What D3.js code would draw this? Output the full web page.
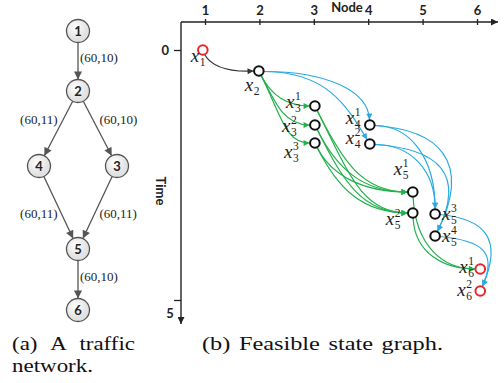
<!DOCTYPE html>
<html>
<head>
<meta charset="utf-8">
<script src="https://cdn.jsdelivr.net/npm/d3@7/dist/d3.min.js"></script>
<style>
  body { margin: 0; background: #fff; }
  svg { display: block; }
  .num { font-family: Lato, "Liberation Sans", sans-serif; font-weight: bold; font-size: 13px; fill: #222; }
  .elab { font-family: "Liberation Serif", serif; font-size: 13px; fill: #222; }
  .cap { font-family: "Liberation Serif", serif; font-size: 19.5px; fill: #111; }
  .xl { font-family: "Liberation Serif", serif; font-style: italic; font-size: 19px; fill: #222; }
  .xs { font-family: "Liberation Serif", serif; font-size: 11.5px; fill: #222; }
</style>
</head>
<body>
<svg id="chart" width="504" height="383"></svg>
<script>
// ---- (a) traffic network ----
var netNodes = [
  { id: "1", level: 0, col: 0 },
  { id: "2", level: 1, col: 0 },
  { id: "4", level: 2, col: -1 },
  { id: "3", level: 2, col: 1 },
  { id: "5", level: 3, col: 0 },
  { id: "6", level: 4, col: 0 }
];
var netLinks = [
  [ "1", "2", "(60,10)" ],
  [ "2", "4", "(60,11)" ],
  [ "2", "3", "(60,10)" ],
  [ "4", "5", "(60,11)" ],
  [ "3", "5", "(60,11)" ],
  [ "5", "6", "(60,10)" ]
];

// ---- (b) feasible state graph ----
var nodeTicks = [ 1, 2, 3, 4, 5, 6 ];
var timeTicks = [ 0, 5 ];
// node = position on Node axis, time = position on Time axis
var states = [
  { id: "x1",  node: 0.96, time: 0.00, sub: "1", sup: "",  end: true },
  { id: "x2",  node: 1.99, time: 0.42, sub: "2", sup: "" },
  { id: "x31", node: 3.02, time: 1.12, sub: "3", sup: "1" },
  { id: "x32", node: 3.02, time: 1.50, sub: "3", sup: "2" },
  { id: "x33", node: 3.02, time: 1.86, sub: "3", sup: "3" },
  { id: "x41", node: 4.03, time: 1.50, sub: "4", sup: "1" },
  { id: "x42", node: 4.03, time: 1.88, sub: "4", sup: "2" },
  { id: "x51", node: 4.82, time: 2.84, sub: "5", sup: "1" },
  { id: "x52", node: 4.82, time: 3.26, sub: "5", sup: "2" },
  { id: "x53", node: 5.23, time: 3.28, sub: "5", sup: "3" },
  { id: "x54", node: 5.23, time: 3.72, sub: "5", sup: "4" },
  { id: "x61", node: 6.06, time: 4.38, sub: "6", sup: "1", end: true },
  { id: "x62", node: 6.06, time: 4.82, sub: "6", sup: "2", end: true }
];
var grayEdges = [ [ "x1", "x2" ] ];
var greenEdges = [
  [ "x2", "x31" ], [ "x2", "x32" ], [ "x2", "x33" ],
  [ "x31", "x51" ], [ "x31", "x52" ], [ "x32", "x51" ], [ "x32", "x52" ],
  [ "x33", "x51" ], [ "x33", "x52" ],
  [ "x51", "x61" ], [ "x52", "x61" ]
];
var blueEdges = [
  [ "x2", "x41" ], [ "x2", "x42" ],
  [ "x41", "x53" ], [ "x41", "x54" ], [ "x42", "x53" ], [ "x42", "x54" ],
  [ "x53", "x62" ], [ "x54", "x62" ]
];

// label placement relative to the state circle (px)
var labelOffset = {
  x1: [ -12, 12 ], x2: [ -14, 20 ],
  x31: [ -29, 2 ], x32: [ -33, 7 ], x33: [ -31, 15 ],
  x41: [ -24, -1 ], x42: [ -24, 0 ],
  x51: [ -19, -17 ], x52: [ -27, 12 ],
  x53: [ 7, 6 ], x54: [ 7, 6 ],
  x61: [ -21, 4 ], x62: [ -23, 5 ]
};
// direction the arrow enters a blue target
var blueIn = { x41: [ 0.05, 1 ], x42: [ 0.6, 1 ], x53: [ 0, 1 ], x54: [ -0.5, 1 ], x62: [ -0.45, 1 ] };

var svg = d3.select( "#chart" );
var defs = svg.append( "defs" );

function marker( id , color , len , wid ) {
  defs.append( "marker" )
    .attr( "id" , id )
    .attr( "markerUnits" , "userSpaceOnUse" )
    .attr( "viewBox" , "0 0 10 10" )
    .attr( "refX" , 10 ).attr( "refY" , 5 )
    .attr( "markerWidth" , len ).attr( "markerHeight" , wid )
    .attr( "orient" , "auto" )
    .append( "path" ).attr( "d" , "M0,0L10,5L0,10z" ).attr( "fill" , color );
}
marker( "arrNet" , "#555" , 9 , 8 );
marker( "arrAxis" , "#222" , 8 , 7 );
marker( "arrGray" , "#333" , 7 , 6 );
marker( "arrGreen" , "#22b14c" , 7 , 6 );
marker( "arrBlue" , "#29abe2" , 7 , 6 );

var grad = defs.append( "radialGradient" ).attr( "id" , "nodeFill" ).attr( "cx" , "40%" ).attr( "cy" , "35%" );
grad.append( "stop" ).attr( "offset" , "0%" ).attr( "stop-color" , "#ffffff" );
grad.append( "stop" ).attr( "offset" , "100%" ).attr( "stop-color" , "#e2e2e2" );

// ---------- network (a) ----------
var colX = d3.scaleLinear().domain( [ -1 , 1 ] ).range( [ 39 , 117 ] );
var rowY = d3.scaleOrdinal().domain( [ 0 , 1 , 2 , 3 , 4 ] ).range( [ 31 , 91 , 166 , 249 , 310 ] );
var netR = 11.5;
var byId = {};
netNodes.forEach( function( n ) { n.x = colX( n.col ); n.y = rowY( n.level ); byId[ n.id ] = n; } );

var gNet = svg.append( "g" );
netLinks.forEach( function( l ) {
  var s = byId[ l[0] ], t = byId[ l[1] ];
  var dx = t.x - s.x, dy = t.y - s.y, d = Math.sqrt( dx * dx + dy * dy );
  var ux = dx / d, uy = dy / d;
  gNet.append( "line" )
    .attr( "x1" , s.x + ux * netR ).attr( "y1" , s.y + uy * netR )
    .attr( "x2" , t.x - ux * netR ).attr( "y2" , t.y - uy * netR )
    .attr( "stroke" , "#555" ).attr( "stroke-width" , 1.3 )
    .attr( "marker-end" , "url(#arrNet)" );
  var mx = ( s.x + t.x ) / 2, my = ( s.y + t.y ) / 2;
  var side = Math.min( s.col , t.col ) < 0 ? -1 : 1;
  var outward = Math.abs( t.col ) > Math.abs( s.col );
  var inward = Math.abs( t.col ) < Math.abs( s.col );
  gNet.append( "text" ).attr( "class" , "elab" )
    .attr( "x" , side < 0 ? mx - 1 : mx + 2 )
    .attr( "y" , outward ? my - 5 : ( inward ? my + 10 : my + 1 ) )
    .attr( "text-anchor" , side < 0 ? "end" : "start" )
    .text( l[2] );
} );
var nodeG = gNet.selectAll( "g.nn" ).data( netNodes ).join( "g" )
  .attr( "transform" , function( d ) { return "translate(" + d.x + "," + d.y + ")"; } );
nodeG.append( "circle" ).attr( "r" , netR ).attr( "fill" , "url(#nodeFill)" )
  .attr( "stroke" , "#555" ).attr( "stroke-width" , 1.3 );
nodeG.append( "text" ).attr( "class" , "num" ).attr( "text-anchor" , "middle" ).attr( "dy" , "0.36em" )
  .text( function( d ) { return d.id; } );

// ---------- state graph (b) ----------
var x = d3.scaleLinear().domain( [ 1 , 6 ] ).range( [ 205 , 477 ] );
var y = d3.scaleLinear().domain( [ 0 , 5 ] ).range( [ 50 , 300 ] );
var ox = 181, oy = 22;

var gAx = svg.append( "g" );
gAx.append( "line" ).attr( "x1" , ox ).attr( "y1" , oy ).attr( "x2" , 498 ).attr( "y2" , oy )
  .attr( "stroke" , "#222" ).attr( "stroke-width" , 1.4 ).attr( "marker-end" , "url(#arrAxis)" );
gAx.append( "line" ).attr( "x1" , ox ).attr( "y1" , oy ).attr( "x2" , ox ).attr( "y2" , 324 )
  .attr( "stroke" , "#222" ).attr( "stroke-width" , 1.4 ).attr( "marker-end" , "url(#arrAxis)" );

var xAxis = d3.axisTop( x ).tickValues( nodeTicks ).tickSize( 6 ).tickPadding( 4 ).tickFormat( d3.format( "d" ) );
var gx = gAx.append( "g" ).attr( "transform" , "translate(0," + ( oy + 3 ) + ")" ).call( xAxis );
gx.select( ".domain" ).remove();
gx.selectAll( "line" ).attr( "stroke" , "#222" ).attr( "stroke-width" , 1.3 );
gx.selectAll( "text" ).attr( "class" , "num" ).attr( "fill" , "#222" ).attr( "font-size" , null ).attr( "font-family" , null );

var yAxis = d3.axisLeft( y ).tickValues( timeTicks ).tickSize( 7 ).tickPadding( 5 ).tickFormat( d3.format( "d" ) );
var gy = gAx.append( "g" ).attr( "transform" , "translate(" + ox + ",0)" ).call( yAxis );
gy.select( ".domain" ).remove();
gy.selectAll( "line" ).attr( "stroke" , "#222" ).attr( "stroke-width" , 1.3 );
gy.selectAll( "text" ).attr( "class" , "num" ).attr( "fill" , "#222" ).attr( "font-size" , null ).attr( "font-family" , null );
gy.selectAll( ".tick" ).filter( function( d ) { return d === 5; } ).select( "text" )
  .attr( "x" , -11 ).attr( "text-anchor" , "middle" ).attr( "dy" , "1.35em" );

gAx.append( "text" ).attr( "class" , "num" ).attr( "x" , 347 ).attr( "y" , 12 )
  .attr( "text-anchor" , "middle" ).attr( "font-size" , 12.5 ).text( "Node" );
gAx.append( "text" ).attr( "class" , "num" ).attr( "transform" , "translate(156,191) rotate(90)" )
  .attr( "text-anchor" , "middle" ).attr( "font-size" , 12.5 ).text( "Time" );

var R = 4.8;
var st = {};
states.forEach( function( s ) { s.px = x( s.node ); s.py = y( s.time ); st[ s.id ] = s; } );

function unit( v ) { var l = Math.sqrt( v[0] * v[0] + v[1] * v[1] ); return [ v[0] / l , v[1] / l ]; }

function greenPath( a , b ) {
  var out = unit( a.id === "x51" || a.id === "x52" ? [ 0.05 , 1 ] : [ 0.5 , 1 ] );
  var p0 = [ a.px + out[0] * R , a.py + out[1] * R ];
  var p3 = [ b.px - R - 0.5 , b.py ];
  var dx = p3[0] - p0[0], dy = p3[1] - p0[1];
  var c1 = [ p0[0] + out[0] * dy * 0.7 , p0[1] + out[1] * dy * 0.7 ];
  var c2 = [ p3[0] - dx * 0.5 , p3[1] ];
  return "M" + p0 + "C" + c1 + " " + c2 + " " + p3;
}

function bluePath( a , b ) {
  var inn = unit( blueIn[ b.id ] );
  var p0 = [ a.px + R , a.py + 0.5 ];
  var p3 = [ b.px - inn[0] * ( R + 0.5 ) , b.py - inn[1] * ( R + 0.5 ) ];
  var dx = p3[0] - p0[0], dy = p3[1] - p0[1];
  var far = b.id === "x54" || b.id === "x62";
  var c1 = [ p0[0] + Math.max( dx , 40 ) * ( far ? 1.0 : 0.6 ) , p0[1] + ( far ? 4 : 0 ) ];
  var L = dy * ( far ? 0.75 : 0.6 );
  var c2 = [ p3[0] - inn[0] * L , p3[1] - inn[1] * L ];
  return "M" + p0 + "C" + c1 + " " + c2 + " " + p3;
}

function grayPath( a , b ) {
  var out = unit( [ 0.4 , 1 ] );
  var p0 = [ a.px + out[0] * R , a.py + out[1] * R ];
  var p3 = [ b.px - R - 0.5 , b.py ];
  var c1 = [ p0[0] + 8 , p0[1] + 14 ];
  var c2 = [ p3[0] - 22 , p3[1] + 1 ];
  return "M" + p0 + "C" + c1 + " " + c2 + " " + p3;
}

var gE = svg.append( "g" ).attr( "fill" , "none" ).attr( "stroke-width" , 1.2 );
gE.selectAll( "path.b" ).data( blueEdges ).join( "path" )
  .attr( "d" , function( e ) { return bluePath( st[ e[0] ] , st[ e[1] ] ); } )
  .attr( "stroke" , "#29abe2" ).attr( "marker-end" , "url(#arrBlue)" );
gE.selectAll( "path.g" ).data( greenEdges ).join( "path" )
  .attr( "d" , function( e ) { return greenPath( st[ e[0] ] , st[ e[1] ] ); } )
  .attr( "stroke" , "#22b14c" ).attr( "marker-end" , "url(#arrGreen)" );
gE.selectAll( "path.k" ).data( grayEdges ).join( "path" )
  .attr( "d" , function( e ) { return grayPath( st[ e[0] ] , st[ e[1] ] ); } )
  .attr( "stroke" , "#333" ).attr( "marker-end" , "url(#arrGray)" );

var gS = svg.append( "g" );
gS.selectAll( "circle" ).data( states ).join( "circle" )
  .attr( "cx" , function( d ) { return d.px; } ).attr( "cy" , function( d ) { return d.py; } )
  .attr( "r" , R ).attr( "fill" , "#fff" )
  .attr( "stroke" , function( d ) { return d.end ? "#e8262a" : "#111" ; } ).attr( "stroke-width" , 2 );

var lab = gS.selectAll( "g.lab" ).data( states ).join( "g" )
  .attr( "transform" , function( d ) {
    var o = labelOffset[ d.id ];
    return "translate(" + ( d.px + o[0] ) + "," + ( d.py + o[1] ) + ")";
  } );
lab.append( "text" ).attr( "class" , "xl" ).text( "x" );
lab.append( "text" ).attr( "class" , "xs" ).attr( "x" , 9 ).attr( "y" , 4 )
  .text( function( d ) { return d.sub; } );
lab.append( "text" ).attr( "class" , "xs" ).attr( "x" , 9 ).attr( "y" , -8 )
  .text( function( d ) { return d.sup; } );

// ---------- captions ----------
var cap = svg.append( "g" );
cap.append( "text" ).attr( "class" , "cap" ).attr( "x" , 12 ).attr( "y" , 350 )
  .attr( "word-spacing" , 7 ).attr( "textLength" , 123 ).attr( "lengthAdjust" , "spacingAndGlyphs" )
  .text( "(a) A traffic" );
cap.append( "text" ).attr( "class" , "cap" ).attr( "x" , 12 ).attr( "y" , 372 )
  .attr( "textLength" , 81 ).attr( "lengthAdjust" , "spacingAndGlyphs" ).text( "network." );
cap.append( "text" ).attr( "class" , "cap" ).attr( "x" , 202 ).attr( "y" , 350 )
  .attr( "word-spacing" , 2 ).attr( "textLength" , 241 ).attr( "lengthAdjust" , "spacingAndGlyphs" )
  .text( "(b) Feasible state graph." );
</script>
</body>
</html>
